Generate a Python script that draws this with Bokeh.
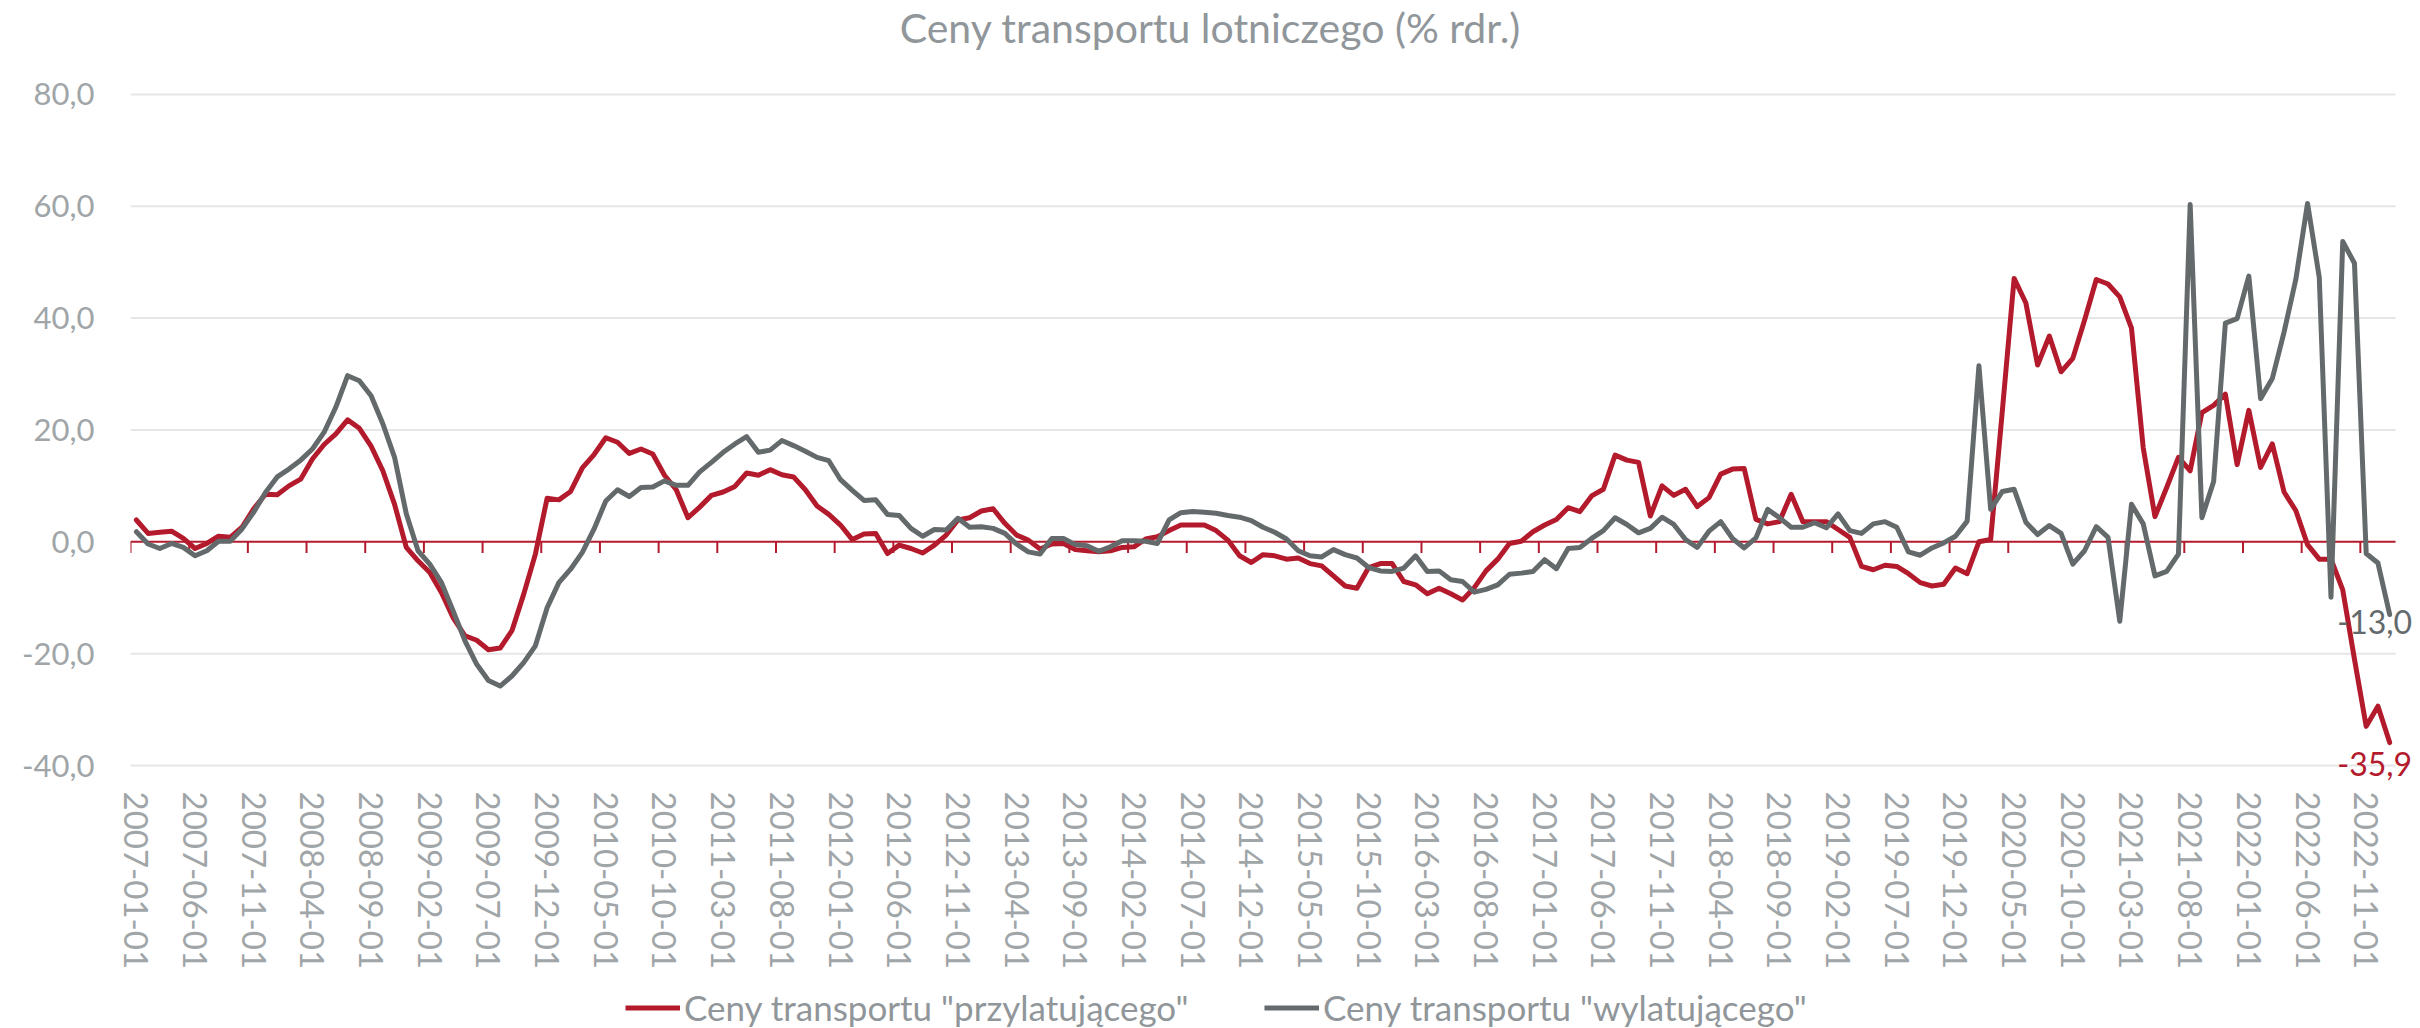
import pandas as pd
from bokeh.plotting import figure
from bokeh.layouts import column
from bokeh.models import Range1d, FixedTicker, Label, Legend, LegendItem
from bokeh.embed import file_html
from bokeh.resources import INLINE

# ---------------- data ----------------
months = [d.strftime("%Y-%m-%d") for d in pd.date_range("2007-01-01", "2023-01-01", freq="MS")]

przylatujacego = [
    3.9, 1.5, 1.7, 1.9, 0.6, -1.2, -0.3, 1.0, 0.8, 2.6,
    5.9, 8.5, 8.4, 10.0, 11.2, 14.8, 17.4, 19.3, 21.8, 20.3,
    17.1, 12.7, 6.7, -1.0, -3.4, -5.5, -9.1, -13.6, -16.8, -17.6,
    -19.3, -19.0, -15.9, -9.4, -2.2, 7.8, 7.5, 9.0, 13.2, 15.6,
    18.6, 17.8, 15.8, 16.6, 15.7, 11.9, 9.3, 4.3, 6.2, 8.3,
    8.9, 9.9, 12.3, 11.9, 12.9, 12.0, 11.6, 9.3, 6.4, 4.9,
    3.0, 0.4, 1.4, 1.5, -2.1, -0.6, -1.2, -2.0, -0.6, 1.2,
    3.9, 4.3, 5.5, 5.9, 3.3, 1.2, 0.3, -1.3, -0.4, -0.3,
    -1.4, -1.6, -1.8, -1.6, -1.0, -0.9, 0.5, 0.9, 2.0, 3.0,
    3.0, 3.0, 2.0, 0.3, -2.5, -3.7, -2.3, -2.5, -3.1, -2.9,
    -3.9, -4.3, -6.1, -7.9, -8.3, -4.6, -3.9, -3.9, -7.1, -7.7,
    -9.3, -8.3, -9.3, -10.4, -8.2, -5.2, -3.1, -0.3, 0.1, 1.8,
    3.0, 4.0, 6.1, 5.4, 8.2, 9.4, 15.5, 14.6, 14.2, 4.6,
    10.0, 8.3, 9.4, 6.3, 7.9, 12.1, 13.0, 13.1, 4.0, 3.2,
    3.6, 8.5, 3.6, 3.6, 3.6, 2.2, 0.8, -4.4, -5.0, -4.2,
    -4.4, -5.7, -7.3, -7.9, -7.6, -4.7, -5.7, 0.0, 0.4, 23.5,
    47.1, 42.7, 31.6, 36.8, 30.4, 32.8, 39.6, 46.9, 46.1, 43.8,
    38.2, 16.8, 4.5, 9.7, 15.1, 12.7, 23.1, 24.4, 26.4, 13.8,
    23.5, 13.3, 17.5, 8.9, 5.6, -0.5, -3.1, -3.1, -8.6, -21.0,
    -33.0, -29.4, -35.9,
]

wylatujacego = [
    1.8, -0.4, -1.2, -0.3, -1.0, -2.5, -1.6, 0.1, 0.1, 2.3,
    5.3, 8.8, 11.6, 13.0, 14.6, 16.6, 19.6, 24.1, 29.7, 28.8,
    26.1, 21.1, 15.1, 5.0, -1.6, -4.0, -7.3, -12.4, -17.7, -21.9,
    -24.8, -25.8, -24.0, -21.6, -18.6, -11.8, -7.3, -4.9, -1.9, 2.3,
    7.3, 9.3, 8.1, 9.7, 9.8, 10.9, 10.1, 10.1, 12.5, 14.2,
    16.0, 17.5, 18.8, 16.0, 16.4, 18.1, 17.2, 16.2, 15.1, 14.5,
    11.1, 9.2, 7.4, 7.5, 4.9, 4.7, 2.4, 1.0, 2.2, 2.1,
    4.2, 2.6, 2.7, 2.4, 1.5, -0.4, -1.8, -2.2, 0.6, 0.6,
    -0.5, -0.7, -1.7, -0.9, 0.2, 0.2, 0.1, -0.3, 3.9, 5.2,
    5.4, 5.3, 5.1, 4.7, 4.4, 3.8, 2.6, 1.7, 0.5, -1.6,
    -2.5, -2.7, -1.4, -2.3, -2.9, -4.6, -5.2, -5.3, -4.7, -2.5,
    -5.3, -5.2, -6.8, -7.1, -9.0, -8.5, -7.7, -5.8, -5.6, -5.3,
    -3.2, -4.8, -1.2, -1.0, 0.6, 2.0, 4.3, 3.1, 1.6, 2.4,
    4.4, 3.1, 0.4, -1.0, 1.9, 3.6, 0.6, -1.1, 0.7, 5.8,
    4.3, 2.6, 2.6, 3.4, 2.5, 5.0, 2.0, 1.5, 3.2, 3.6,
    2.6, -1.8, -2.4, -1.1, -0.2, 1.0, 3.7, 31.5, 5.8, 9.0,
    9.4, 3.5, 1.3, 2.9, 1.5, -4.0, -1.6, 2.7, 0.8, -14.2,
    6.7, 3.2, -6.1, -5.3, -2.2, 60.3, 4.3, 10.8, 39.1, 39.9,
    47.5, 25.6, 29.2, 37.5, 46.9, 60.5, 47.3, -9.9, 53.7, 49.8,
    -2.1, -3.8, -13.0,
]

y_ticks = [-40, -20, 0, 20, 40, 60, 80]
y_tick_labels = ["-40,0", "-20,0", "0,0", "20,0", "40,0", "60,0", "80,0"]
title_text = "Ceny transportu lotniczego (% rdr.)"
series_names = ['Ceny transportu "przylatującego"', 'Ceny transportu "wylatującego"']
label_every = 5

# ---------------- style / layout ----------------
FONT = "Lato"
RED = "#B31B2D"
GRAY = "#646A6C"
TEXT = "#90969A"
TICK_TEXT = "#A0A5A8"
GRID = "#E6E6E6"

W = 2412
LEFT = 130
FRAME_H = 790          # frame runs from the top edge to a little below the -40 line
BOTTOM = 187           # room for the rotated date labels
LEGEND_H = 51          # legend strip at the bottom of the page
PX_PER_MONTH = 11.736
PX_PER_UNIT = 5.5925
Y_TOP_PX = 93.9        # pixel row of the top (80) gridline

n = len(months)
xs = [i + 0.5 for i in range(n)]
frame_w = W - LEFT
y_hi = y_ticks[-1] + Y_TOP_PX / PX_PER_UNIT
y_lo = y_hi - FRAME_H / PX_PER_UNIT

p = figure(width=W, height=FRAME_H + BOTTOM, frame_width=frame_w, frame_height=FRAME_H,
           output_backend="svg", toolbar_location=None,
           x_range=Range1d(0, frame_w / PX_PER_MONTH), y_range=Range1d(y_lo, y_hi),
           min_border_left=LEFT, min_border_right=0, min_border_top=0, min_border_bottom=BOTTOM)
p.outline_line_color = None
p.background_fill_color = "white"
p.border_fill_color = "white"
p.xgrid.visible = False
p.ygrid.visible = False

# gridlines over the category span only
grid_vals = [t for t in y_ticks if t != 0]
p.segment(x0=[0] * len(grid_vals), x1=[n] * len(grid_vals), y0=grid_vals, y1=grid_vals,
          line_color=GRID, line_width=2)

# x axis (labels only)
tick_idx = list(range(0, n, label_every))
p.xaxis.ticker = FixedTicker(ticks=[i + 0.5 for i in tick_idx])
p.xaxis.major_label_overrides = {i + 0.5: months[i] for i in tick_idx}
p.xaxis.axis_line_color = None
p.xaxis.major_tick_line_color = None
p.xaxis.minor_tick_line_color = None
p.xaxis.major_tick_out = 0
p.xaxis.major_tick_in = 0
p.xaxis.major_label_orientation = "vertical"
p.xaxis.major_label_standoff = 1
p.xaxis.major_label_text_font = FONT
p.xaxis.major_label_text_font_size = "33px"
p.xaxis.major_label_text_color = TICK_TEXT

# y axis
p.yaxis.ticker = FixedTicker(ticks=y_ticks)
p.yaxis.major_label_overrides = {t: s for t, s in zip(y_ticks, y_tick_labels)}
p.yaxis.axis_line_color = None
p.yaxis.major_tick_line_color = None
p.yaxis.minor_tick_line_color = None
p.yaxis.major_tick_out = 0
p.yaxis.major_tick_in = 0
p.yaxis.major_label_standoff = 36
p.yaxis.major_label_text_font = FONT
p.yaxis.major_label_text_font_size = "31px"
p.yaxis.major_label_text_color = TICK_TEXT

# zero axis line with category tick marks
p.segment(x0=[0], x1=[n], y0=[0], y1=[0], line_color=RED, line_width=2)
p.segment(x0=tick_idx, y0=[0] * len(tick_idx), x1=tick_idx, y1=[-2.0] * len(tick_idx),
          line_color=RED, line_width=2)

p.line(xs, przylatujacego, line_color=RED, line_width=5, line_join="round", line_cap="round")
p.line(xs, wylatujacego, line_color=GRAY, line_width=5, line_join="round", line_cap="round")

# end-of-series data labels
def fmt(v):
    return f"{v:.1f}".replace(".", ",")

p.add_layout(Label(x=xs[-1], y=przylatujacego[-1], text=fmt(przylatujacego[-1]),
                   x_offset=-15, y_offset=-21, text_align="center", text_baseline="middle",
                   text_font=FONT, text_font_size="32px", text_color=RED))
p.add_layout(Label(x=xs[-1], y=wylatujacego[-1], text=fmt(wylatujacego[-1]),
                   x_offset=-15, y_offset=-7, text_align="center", text_baseline="middle",
                   text_font=FONT, text_font_size="32px", text_color=GRAY))

# title (inside the frame, above the top gridline)
p.add_layout(Label(x=(1210 - LEFT) / PX_PER_MONTH, y=y_hi - 27 / PX_PER_UNIT, text=title_text,
                   text_align="center", text_baseline="middle",
                   text_font=FONT, text_font_size="41px", text_color=TEXT))

# ---------------- legend strip ----------------
# the strip's y range lies far above the data, so the key lines themselves stay out of view
lg = figure(width=W, height=LEGEND_H, frame_width=W, frame_height=LEGEND_H,
            output_backend="svg", toolbar_location=None,
            x_range=Range1d(0, W), y_range=Range1d(1000, 1000 + LEGEND_H),
            x_axis_location=None, y_axis_location=None,
            min_border_left=0, min_border_right=0, min_border_top=0, min_border_bottom=0)
lg.outline_line_color = None
lg.xgrid.visible = False
lg.ygrid.visible = False
lg.background_fill_color = "white"
lg.border_fill_color = "white"
k1 = lg.line(xs, przylatujacego, line_color=RED, line_width=5)
k2 = lg.line(xs, wylatujacego, line_color=GRAY, line_width=5)

legend = Legend(items=[LegendItem(label=series_names[0], renderers=[k1]),
                       LegendItem(label=series_names[1], renderers=[k2])],
                orientation="horizontal", location=(625, 0),
                glyph_width=55, glyph_height=35, label_height=35, label_width=580,
                label_standoff=4, spacing=0, padding=0, margin=0,
                border_line_alpha=0, background_fill_alpha=0,
                label_text_font=FONT, label_text_font_size="35px", label_text_color=TEXT)
lg.add_layout(legend)

layout = column(p, lg, spacing=0)
open("out.html", "w").write(file_html(layout, INLINE))
